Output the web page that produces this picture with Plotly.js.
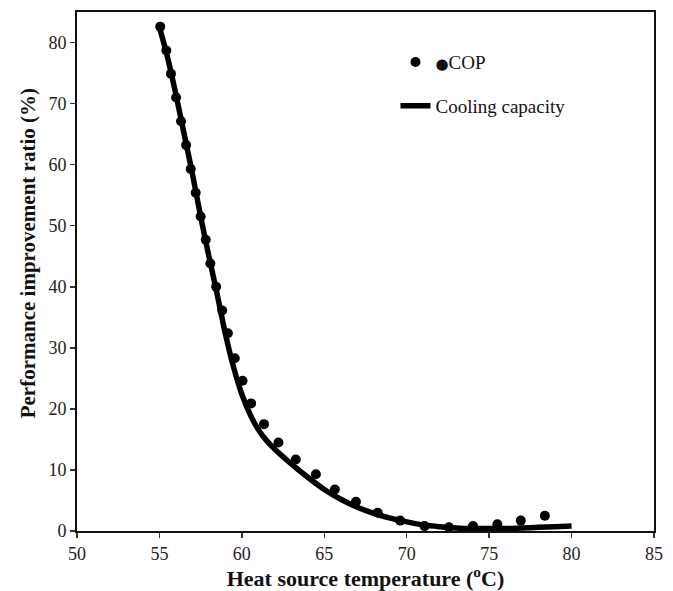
<!DOCTYPE html>
<html>
<head>
<meta charset="utf-8">
<script src="https://cdn.plot.ly/plotly-3.0.1.min.js"></script>
<style>html,body{margin:0;padding:0;background:#fff;}#chart{width:673px;height:591px;}</style>
</head>
<body>
<div id="chart"></div>
<script>
// COP data points
var copTemp = [55.05, 55.42, 55.70, 56.01, 56.31, 56.62, 56.90, 57.20, 57.50, 57.81,
               58.09, 58.44, 58.81, 59.15, 59.57, 60.04, 60.56, 61.34, 62.22, 63.27,
               64.49, 65.64, 66.92, 68.24, 69.60, 71.08, 72.56, 74.02, 75.50, 76.92, 78.38];
var copRatio = [82.6, 78.7, 74.9, 71.0, 67.1, 63.2, 59.3, 55.4, 51.5, 47.7,
                43.8, 40.0, 36.1, 32.4, 28.3, 24.6, 20.9, 17.5, 14.5, 11.7,
                9.3, 6.8, 4.8, 3.0, 1.7, 0.8, 0.6, 0.8, 1.1, 1.7, 2.5];
// Cooling capacity curve
var capTemp = [55, 55.5, 56, 56.5, 57, 57.5, 58, 58.5, 59, 59.5, 60, 60.5, 61, 61.5, 62,
               63, 64, 65, 66, 67, 68, 69, 70, 71, 72, 73, 74, 75, 76, 77, 78, 79, 80];
var capRatio = [82.5, 77.5, 71.5, 65.0, 58.5, 51.5, 45.0, 38.8, 32.3, 26.8, 22.4, 19.1, 16.6, 14.8, 13.4,
                11.0, 8.8, 6.8, 5.2, 3.9, 2.9, 2.1, 1.5, 1.0, 0.7, 0.5, 0.4, 0.4, 0.4, 0.5, 0.6, 0.7, 0.8];
var xTicks = [50, 55, 60, 65, 70, 75, 80, 85];
var yTicks = [0, 10, 20, 30, 40, 50, 60, 70, 80];
var seriesNames = ["COP", "Cooling capacity"];
var xTitle = "Heat source temperature (<sup>o</sup>C)";
var yTitle = "Performance improvement ratio (%)";

var serif = "Liberation Serif, Times New Roman, serif";

var traces = [
  {
    x: copTemp, y: copRatio,
    name: "<span style='font-family:DejaVu Sans;font-size:15px'>●</span>" + seriesNames[0],
    type: "scatter", mode: "markers",
    marker: {color: "#000", size: 10}, legendgroup: "a"
  },
  {
    x: capTemp, y: capRatio, name: seriesNames[1], type: "scatter", mode: "lines",
    line: {color: "#000", width: 5.5, shape: "spline", smoothing: 0.8}, legendgroup: "b"
  }
];

var layout = {
  width: 673, height: 591,
  margin: {l: 77, r: 19, t: 12, b: 60},
  paper_bgcolor: "#fff", plot_bgcolor: "#fff",
  font: {family: serif, size: 18, color: "#222"},
  showlegend: true,
  legend: {
    x: 0.552, y: 0.94, xanchor: "left", yanchor: "top",
    bgcolor: "rgba(0,0,0,0)", borderwidth: 0,
    font: {family: serif, size: 19, color: "#111"},
    tracegroupgap: 16, itemwidth: 30
  },
  xaxis: {
    range: [50, 85], tickvals: xTicks, ticktext: xTicks.map(String),
    showgrid: false, zeroline: false,
    showline: true, linecolor: "#111", linewidth: 2, mirror: true,
    ticks: "outside", ticklen: 5, tickwidth: 1.5, tickcolor: "#333",
    tickfont: {family: serif, size: 18, color: "#222"},
    title: {text: "<b>" + xTitle + "</b>", font: {family: serif, size: 22, color: "#111"}, standoff: 4}
  },
  yaxis: {
    range: [0, 85], tickvals: yTicks, ticktext: yTicks.map(String),
    showgrid: false, zeroline: false,
    showline: true, linecolor: "#111", linewidth: 2, mirror: true,
    ticks: "outside", ticklen: 5, tickwidth: 1.5, tickcolor: "#333",
    tickfont: {family: serif, size: 18, color: "#222"}
  },
  annotations: [{
    text: "<b>" + yTitle + "</b>", textangle: -90,
    xref: "paper", yref: "paper", x: -0.085, y: 0.535,
    xanchor: "center", yanchor: "middle", showarrow: false,
    font: {family: serif, size: 21, color: "#111"}
  }]
};

Plotly.newPlot("chart", traces, layout, {displayModeBar: false, staticPlot: true});
</script>
</body>
</html>
